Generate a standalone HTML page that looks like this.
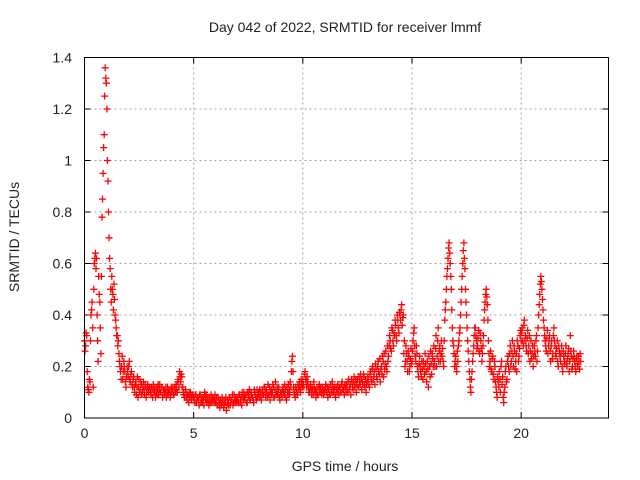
<!DOCTYPE html>
<html><head><meta charset="utf-8"><style>
body{margin:0;background:#fff;}
svg{display:block;font-family:"Liberation Sans",sans-serif;}
</style></head><body>
<svg id="chart" width="640" height="480" viewBox="0 0 640 480">
<text x="345" y="32" text-anchor="middle" font-size="14" fill="#222">Day 042 of 2022, SRMTID for receiver lmmf</text>
<text x="345" y="471" text-anchor="middle" font-size="14" fill="#222">GPS time / hours</text>
<text transform="translate(19,237) rotate(-90)" text-anchor="middle" font-size="14" fill="#222">SRMTID / TECUs</text>
<g id="grid"></g>
<g id="ticks"></g>
<g id="points"></g>
<rect x="84.5" y="57.5" width="524" height="360.5" fill="none" stroke="#000" stroke-width="1"/>
</svg>
<script>
const xTicks=[0,5,10,15,20];
const yTicks=[0,0.2,0.4,0.6,0.8,1,1.2,1.4];
const yTickLabels=["0","0.2","0.4","0.6","0.8","1","1.2","1.4"];
const startHour=0, stepHours=0.05, offsetB=0.025;
const srmtid=[
0.30,0.28,0.32,0.12,0.10,0.14,0.40,0.45,0.12,0.60,0.64,0.62,0.30,0.55,0.45,0.25,0.78,0.95,1.10,1.36,
1.30,1.00,0.80,0.62,0.50,0.55,0.48,0.52,0.40,0.35,0.32,0.30,0.22,0.18,0.20,0.15,0.22,0.18,0.12,0.20,
0.16,0.22,0.14,0.18,0.12,0.16,0.10,0.14,0.12,0.08,0.15,0.11,0.13,0.10,0.14,0.09,0.12,0.10,0.13,0.11,
0.12,0.09,0.11,0.13,0.10,0.08,0.12,0.11,0.09,0.13,0.10,0.12,0.09,0.11,0.10,0.08,0.12,0.10,0.11,0.09,
0.10,0.12,0.09,0.11,0.13,0.10,0.15,0.18,0.14,0.16,0.12,0.09,0.08,0.10,0.07,0.09,0.08,0.10,0.07,0.09,
0.08,0.06,0.09,0.07,0.08,0.05,0.09,0.07,0.06,0.08,0.10,0.07,0.06,0.08,0.05,0.07,0.09,0.06,0.08,0.07,
0.06,0.08,0.05,0.07,0.04,0.06,0.08,0.07,0.05,0.06,0.03,0.07,0.05,0.08,0.06,0.07,0.05,0.09,0.06,0.07,
0.08,0.06,0.09,0.07,0.05,0.08,0.10,0.07,0.09,0.06,0.08,0.11,0.07,0.09,0.08,0.06,0.10,0.08,0.11,0.09,
0.08,0.10,0.07,0.11,0.09,0.12,0.08,0.10,0.13,0.09,0.07,0.11,0.10,0.12,0.08,0.14,0.10,0.09,0.12,0.07,
0.10,0.08,0.12,0.09,0.11,0.07,0.10,0.13,0.09,0.12,0.22,0.18,0.10,0.08,0.11,0.09,0.12,0.14,0.10,0.13,
0.15,0.12,0.18,0.14,0.16,0.12,0.10,0.13,0.09,0.11,0.14,0.10,0.08,0.12,0.09,0.13,0.11,0.10,0.12,0.09,
0.11,0.13,0.10,0.08,0.12,0.09,0.11,0.14,0.10,0.12,0.08,0.11,0.13,0.09,0.12,0.10,0.14,0.11,0.09,0.12,
0.13,0.10,0.15,0.12,0.09,0.14,0.11,0.16,0.13,0.10,0.15,0.12,0.14,0.17,0.11,0.13,0.16,0.12,0.10,0.14,
0.15,0.12,0.18,0.14,0.20,0.16,0.13,0.19,0.15,0.22,0.17,0.14,0.20,0.24,0.16,0.19,0.26,0.18,0.22,0.28,
0.30,0.26,0.34,0.28,0.32,0.36,0.30,0.38,0.33,0.40,0.42,0.36,0.40,0.30,0.22,0.25,0.18,0.24,0.20,0.27,
0.22,0.30,0.35,0.24,0.28,0.20,0.16,0.24,0.18,0.22,0.15,0.20,0.25,0.18,0.22,0.12,0.20,0.26,0.17,0.23,
0.28,0.20,0.32,0.24,0.35,0.26,0.22,0.30,0.27,0.20,0.38,0.45,0.55,0.62,0.68,0.60,0.50,0.35,0.28,0.20,
0.24,0.18,0.22,0.30,0.35,0.45,0.55,0.65,0.62,0.50,0.40,0.30,0.22,0.15,0.10,0.18,0.25,0.32,0.35,0.30,
0.28,0.34,0.25,0.30,0.22,0.28,0.38,0.45,0.50,0.44,0.30,0.20,0.26,0.18,0.24,0.15,0.20,0.12,0.08,0.14,
0.18,0.10,0.22,0.16,0.06,0.12,0.20,0.15,0.24,0.18,0.28,0.22,0.30,0.20,0.26,0.22,0.18,0.28,0.24,0.32,
0.30,0.35,0.28,0.38,0.32,0.26,0.34,0.28,0.22,0.30,0.25,0.20,0.28,0.24,0.32,0.26,0.40,0.48,0.55,0.50,
0.42,0.35,0.30,0.26,0.34,0.28,0.32,0.22,0.30,0.25,0.35,0.28,0.24,0.30,0.20,0.26,0.22,0.28,0.18,0.24,
0.22,0.28,0.20,0.25,0.18,0.32,0.24,0.20,0.26,0.22,0.18,0.24,0.20,0.22,0.25
];
const srmtidB=[
0.26,0.33,0.18,0.11,0.15,0.30,0.42,0.35,0.50,0.62,0.58,0.40,0.22,0.48,0.35,0.55,0.85,1.05,1.25,1.32,
1.20,0.92,0.70,0.58,0.45,0.50,0.42,0.46,0.38,0.32,0.28,0.25,0.20,0.15,0.24,0.18,0.20,0.14,0.16,0.18,
0.20,0.15,0.17,0.13,0.15,0.12,0.13,0.09,0.16,0.12,0.10,0.14,0.09,0.12,0.11,0.13,0.08,0.12,0.10,0.12,
0.10,0.12,0.08,0.11,0.12,0.10,0.09,0.13,0.11,0.10,0.12,0.08,0.11,0.09,0.12,0.10,0.09,0.11,0.08,0.12,
0.11,0.09,0.12,0.10,0.11,0.14,0.12,0.16,0.17,0.12,0.10,0.08,0.11,0.08,0.09,0.06,0.10,0.08,0.09,0.08,
0.07,0.09,0.06,0.08,0.07,0.09,0.06,0.08,0.07,0.05,0.08,0.09,0.07,0.06,0.08,0.06,0.07,0.08,0.06,0.09,
0.07,0.05,0.08,0.06,0.07,0.05,0.06,0.04,0.07,0.08,0.05,0.06,0.08,0.05,0.07,0.09,0.06,0.07,0.08,0.06,
0.07,0.09,0.06,0.08,0.10,0.07,0.08,0.09,0.06,0.10,0.09,0.07,0.10,0.08,0.07,0.11,0.09,0.07,0.08,0.10,
0.11,0.08,0.10,0.09,0.12,0.10,0.11,0.08,0.09,0.12,0.10,0.09,0.13,0.08,0.11,0.09,0.12,0.11,0.08,0.10,
0.09,0.11,0.10,0.13,0.08,0.12,0.09,0.11,0.14,0.18,0.24,0.12,0.09,0.12,0.10,0.13,0.11,0.12,0.15,0.12,
0.13,0.17,0.15,0.12,0.14,0.10,0.12,0.11,0.12,0.09,0.12,0.11,0.10,0.09,0.12,0.10,0.12,0.09,0.11,0.10,
0.12,0.10,0.12,0.11,0.09,0.13,0.10,0.12,0.11,0.09,0.12,0.10,0.11,0.12,0.10,0.13,0.11,0.12,0.13,0.10,
0.12,0.14,0.11,0.13,0.15,0.12,0.14,0.12,0.15,0.13,0.12,0.16,0.13,0.15,0.14,0.17,0.13,0.15,0.13,0.16,
0.13,0.17,0.15,0.19,0.15,0.18,0.21,0.16,0.20,0.18,0.23,0.19,0.17,0.22,0.25,0.21,0.20,0.28,0.24,0.32,
0.27,0.35,0.30,0.33,0.38,0.32,0.40,0.35,0.41,0.38,0.44,0.39,0.25,0.20,0.28,0.22,0.26,0.18,0.23,0.21,
0.26,0.33,0.28,0.22,0.25,0.18,0.21,0.20,0.16,0.19,0.22,0.17,0.21,0.14,0.19,0.24,0.16,0.21,0.25,0.20,
0.22,0.27,0.20,0.30,0.22,0.28,0.25,0.24,0.22,0.30,0.42,0.50,0.58,0.66,0.64,0.55,0.42,0.30,0.25,0.22,
0.20,0.26,0.28,0.33,0.40,0.50,0.60,0.68,0.58,0.45,0.35,0.26,0.18,0.12,0.15,0.22,0.28,0.35,0.32,0.27,
0.31,0.26,0.33,0.27,0.25,0.32,0.42,0.48,0.47,0.38,0.25,0.22,0.19,0.23,0.17,0.22,0.14,0.10,0.16,0.12,
0.15,0.20,0.13,0.08,0.10,0.18,0.14,0.22,0.20,0.25,0.20,0.26,0.24,0.28,0.19,0.25,0.30,0.22,0.27,0.34,
0.33,0.30,0.36,0.30,0.28,0.31,0.25,0.32,0.26,0.23,0.28,0.24,0.26,0.30,0.22,0.35,0.44,0.52,0.53,0.46,
0.38,0.32,0.28,0.31,0.25,0.30,0.26,0.28,0.23,0.32,0.30,0.25,0.27,0.22,0.28,0.24,0.25,0.20,0.26,0.21,
0.25,0.21,0.23,0.27,0.22,0.26,0.19,0.23,0.24,0.20,0.23,0.21,0.24,0.19,0.22
];
const NS="http://www.w3.org/2000/svg";
const L=84.5,R=608.5,T=57.5,B=418;
const xMin=0,xMax=24,yMin=0,yMax=1.4;
function xs(v){return L+(v-xMin)/(xMax-xMin)*(R-L);}
function ys(v){return B-(v-yMin)/(yMax-yMin)*(B-T);}
function mk(tag,attrs,parent){const e=document.createElementNS(NS,tag);for(const k in attrs)e.setAttribute(k,attrs[k]);parent.appendChild(e);return e;}
const grid=document.getElementById('grid'),ticks=document.getElementById('ticks'),pts=document.getElementById('points');
xTicks.forEach(v=>{
  const x=xs(v);
  if(v!==xMin){const g=mk('line',{x1:x,x2:x,y1:T,y2:B,stroke:'#a0a0a0','stroke-dasharray':'2,3'},grid);
  
  }
  mk('line',{x1:x,x2:x,y1:B,y2:B-6,stroke:'#000'},ticks);
  mk('line',{x1:x,x2:x,y1:T,y2:T+6,stroke:'#000'},ticks);
  const t=mk('text',{x:x,y:B+20,'text-anchor':'middle','font-size':14,fill:'#222'},ticks);
  t.textContent=String(v);
  
  
});
yTicks.forEach((v,i)=>{
  const y=ys(v);
  if(v!==yMin&&v!==yMax){const g=mk('line',{x1:L,x2:R,y1:y,y2:y,stroke:'#a0a0a0','stroke-dasharray':'2,3'},grid);
  
  }
  mk('line',{x1:L,x2:L+6,y1:y,y2:y,stroke:'#000'},ticks);
  mk('line',{x1:R,x2:R-6,y1:y,y2:y,stroke:'#000'},ticks);
  const t=mk('text',{x:72,y:y+5,'text-anchor':'end','font-size':14,fill:'#222'},ticks);
  t.textContent=yTickLabels[i];
  
  
});
function plus(x,y){return `M${(x-3.5).toFixed(1)} ${y.toFixed(1)}h7M${x.toFixed(1)} ${(y-3.5).toFixed(1)}v7`;}
let d='';
srmtid.forEach((v,i)=>{d+=plus(xs(startHour+i*stepHours),ys(v));});
srmtidB.forEach((v,i)=>{d+=plus(xs(startHour+offsetB+i*stepHours),ys(v));});
const p=mk('path',{d:d,stroke:'#ff0000','stroke-width':1.3,fill:'none'},pts);


</script>
</body></html>
